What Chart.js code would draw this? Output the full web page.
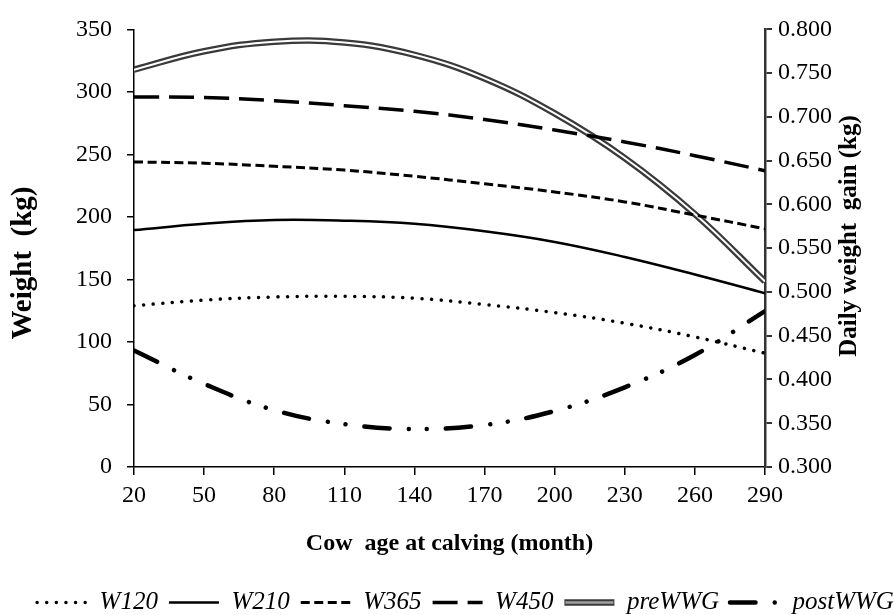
<!DOCTYPE html>
<html>
<head>
<meta charset="utf-8">
<script src="https://cdn.jsdelivr.net/npm/chart.js@4.4.1/dist/chart.umd.min.js"></script>
<style>
  html, body { margin: 0; padding: 0; background: #fff; }
</style>
</head>
<body>
<canvas id="cowChart" width="894" height="615"></canvas>
<script>
// cow age at calving (month)
const ages = [20, 50, 80, 110, 140, 170, 200, 230, 260, 290];

// weights (kg), left axis
const w120 = [129, 133.5, 136, 136.5, 135, 130, 123.5, 115, 104, 91];
const w210 = [189.5, 194.5, 197.5, 197, 194.5, 188.5, 180, 168, 154, 139];
const w365 = [244, 243, 240.5, 237.5, 232.5, 226.5, 220, 212, 201.5, 190.5];
const w450 = [296, 295.5, 293, 289, 284.5, 278, 269.5, 260, 249, 237];

// daily weight gain (kg), right axis
const preWWG = [0.754, 0.775, 0.786, 0.785, 0.771, 0.744, 0.704, 0.653, 0.589, 0.512];
const postWWG = [0.433, 0.395, 0.365, 0.349, 0.3435, 0.348, 0.364, 0.391, 0.428, 0.478];

const ageTicks = [20, 50, 80, 110, 140, 170, 200, 230, 260, 290];
const weightTicks = [0, 50, 100, 150, 200, 250, 300, 350];
const gainTicks = [0.3, 0.35, 0.4, 0.45, 0.5, 0.55, 0.6, 0.65, 0.7, 0.75, 0.8];

const LEGEND_SIZE = 25;
const KEY_WIDTH = 50;

Chart.defaults.font.family = "'Liberation Serif', 'Times New Roman', serif";
Chart.defaults.color = '#000';

function pts(ys) {
  return ages.map((a, i) => ({ x: a, y: ys[i] }));
}

function line(label, ys, axis, extra) {
  return Object.assign({
    label: label,
    data: pts(ys),
    yAxisID: axis,
    borderColor: '#000',
    backgroundColor: '#000',
    pointRadius: 0,
    fill: false,
    tension: 0.4,
    borderCapStyle: 'butt'
  }, extra);
}

// draws the light middle of the double-line key for preWWG
const doubleKey = {
  id: 'doubleKey',
  afterDraw(chart) {
    const lg = chart.legend;
    const i = lg.legendItems.findIndex(it => it.text === 'preWWG');
    if (i < 0) return;
    const hb = lg.legendHitBoxes[i];
    const y = hb.top + LEGEND_SIZE / 2;
    const ctx = chart.ctx;
    ctx.save();
    ctx.strokeStyle = '#a0a0a0';
    ctx.lineWidth = 2.5;
    ctx.beginPath();
    ctx.moveTo(hb.left + 1, y);
    ctx.lineTo(hb.left + KEY_WIDTH - 1, y);
    ctx.stroke();
    ctx.restore();
  }
};

// axis titles, both read bottom to top
function sideTitle(ctx, text, x, y, size) {
  ctx.save();
  ctx.translate(x, y);
  ctx.rotate(-Math.PI / 2);
  ctx.font = "bold " + size + "px 'Liberation Serif'";
  ctx.fillStyle = '#000';
  ctx.textAlign = 'center';
  ctx.textBaseline = 'middle';
  ctx.fillText(text, 0, 0);
  ctx.restore();
}

const sideTitles = {
  id: 'sideTitles',
  afterDraw(chart) {
    sideTitle(chart.ctx, 'Weight  (kg)', 24, 263, 29);
    sideTitle(chart.ctx, 'Daily weight  gain (kg)', 850, 236, 25);
  }
};

const ctx = document.getElementById('cowChart').getContext('2d');
new Chart(ctx, {
  type: 'line',
  data: {
    datasets: [
      line('W120', w120, 'yW', { borderWidth: 3.5, borderDash: [0.01, 9.6], borderCapStyle: 'round' }),
      line('W210', w210, 'yW', { borderWidth: 2.5 }),
      line('W365', w365, 'yW', { borderWidth: 3, borderDash: [9, 4.5] }),
      line('W450', w450, 'yW', { borderWidth: 3.5, borderDash: [25, 10] }),
      line('preWWG', preWWG, 'yG', { borderWidth: 2, borderColor: '#fff', keyHidden: true }),
      line('preWWG', preWWG, 'yG', { borderWidth: 6.5, borderColor: '#3a3a3a' }),
      line('postWWG', postWWG, 'yG', { borderWidth: 4.5, borderDash: [25.5, 19.2, 0.01, 17.7, 0.01, 19], borderCapStyle: 'round' })
    ]
  },
  options: {
    responsive: false,
    animation: false,
    layout: { padding: { top: 21.5, bottom: -10, left: 24.5, right: -12.5 } },
    plugins: {
      tooltip: { enabled: false },
      legend: {
        position: 'bottom',
        labels: {
          usePointStyle: true,
          pointStyleWidth: KEY_WIDTH,
          padding: 11,
          color: '#000',
          font: { size: LEGEND_SIZE, style: 'italic' },
          generateLabels: chart => chart.data.datasets
            .map((ds, i) => ({
              text: ds.label,
              datasetIndex: i,
              keyHidden: ds.keyHidden,
              strokeStyle: ds.borderColor,
              fillStyle: ds.borderColor,
              lineWidth: ds.borderWidth,
              lineDash: ds.borderDash || [],
              lineCap: ds.borderCapStyle,
              pointStyle: 'line',
              hidden: false,
              fontColor: '#000'
            }))
            .filter(it => !it.keyHidden)
        }
      }
    },
    scales: {
      x: {
        type: 'linear',
        min: 20,
        max: 290,
        afterBuildTicks: s => { s.ticks = ageTicks.map(v => ({ value: v })); },
        afterFit: s => { s.height = 112; },
        ticks: { autoSkip: false, maxRotation: 0, padding: 6, font: { size: 24 } },
        grid: { drawOnChartArea: false, tickLength: 8, color: '#000', lineWidth: 1.5 },
        border: { color: '#000', width: 1.5 },
        title: {
          display: true,
          text: 'Cow  age at calving (month)',
          font: { size: 24, weight: 'bold' },
          padding: { top: 21, bottom: 21 }
        }
      },
      yW: {
        position: 'left',
        min: 0,
        max: 350,
        afterBuildTicks: s => { s.ticks = weightTicks.map(v => ({ value: v })); },
        afterFit: s => { s.width = 109.5; },
        ticks: { padding: 15, font: { size: 24 } },
        grid: { drawOnChartArea: false, tickLength: 7, color: '#000', lineWidth: 1.5 },
        border: { color: '#000', width: 1.5 }
      },
      yG: {
        position: 'right',
        min: 0.3,
        max: 0.8,
        afterBuildTicks: s => { s.ticks = gainTicks.map(v => ({ value: v })); },
        afterFit: s => { s.width = 141.5; },
        ticks: { padding: 6, font: { size: 24 }, callback: v => v.toFixed(3) },
        grid: { drawOnChartArea: false, tickLength: 7, color: '#333', lineWidth: 2 },
        border: { color: '#333', width: 2.5 }
      }
    }
  },
  plugins: [doubleKey, sideTitles]
});
</script>
</body>
</html>
